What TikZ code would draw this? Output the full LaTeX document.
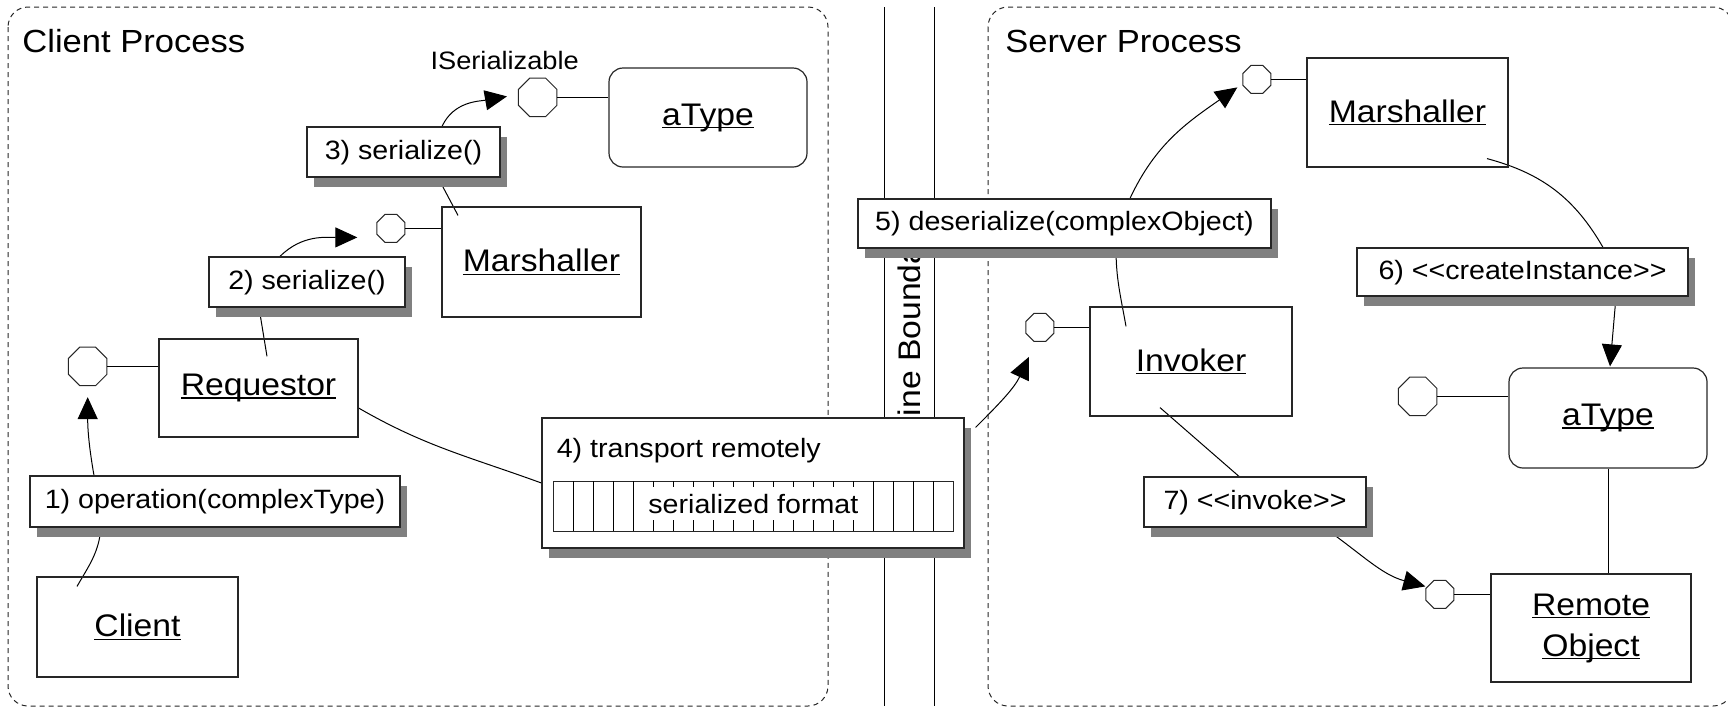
\documentclass[tikz,border=0pt]{standalone}
\usepackage{fontspec}
\setmainfont{Liberation Sans}[FakeStretch=1.08]
\usetikzlibrary{shapes.geometric,arrows.meta,positioning,calc,shadows}

\pgfdeclarelayer{background}
\pgfsetlayers{background,main}

\newcommand{\titlefont}{\fontsize{16}{19}\selectfont}
\newcommand{\namefont}{\fontsize{15.6}{20.5}\selectfont}
\newcommand{\msgfont}{\fontsize{13.25}{16}\selectfont}
\newcommand{\ifacefont}{\fontsize{12.6}{15}\selectfont}
% object names are underlined close to the baseline
\newcommand{\objname}[1]{\setbox0\hbox{#1}\rlap{\rule[-1.5pt]{\wd0}{0.6pt}}\box0}

\begin{document}
\begin{tikzpicture}[
    x=0.5pt, y=-0.5pt, % pixel grid, y grows downwards
    font=\msgfont,
    % Styles
    process/.style={
        draw=black!85,
        line width=0.5pt,
        dash pattern=on 2.5pt off 2pt,
        rounded corners=10pt
    },
    object/.style={
        rectangle,
        draw=black!85,
        line width=0.6pt,
        minimum width=100pt,
        minimum height=50pt,
        align=center,
        font=\namefont
    },
    typebox/.style={object, rounded corners=7pt},
    iface/.style={
        regular polygon,
        regular polygon sides=8,
        draw=black!85,
        line width=0.5pt,
        inner sep=0pt,
        minimum size=20.8pt
    },
    smallface/.style={iface, minimum size=15.2pt},
    msg/.style={
        rectangle,
        draw=black!85,
        fill=white,
        line width=0.6pt,
        minimum height=25pt,
        text height=0.72em,
        text depth=0pt,
        inner sep=0pt,
        drop shadow={shadow xshift=3.5pt, shadow yshift=-5pt, fill=black!50, opacity=1}
    },
    % Line Styles
    wire/.style={draw, line width=0.5pt},
    call/.style={wire, -{Triangle[length=11pt, width=10pt]}}
]
\useasboundingbox (0,0) rectangle (1728,713);

% --- Process frames and machine boundary ---
\draw[process] (8,7) rectangle (828,706);
\draw[process] (988,7) rectangle (1733,706);
\draw[wire] (884,7) -- (884,706);
\draw[wire] (934,7) -- (934,706);
\node[font=\namefont, rotate=90, anchor=base, inner sep=0pt] (boundary) at (920,358) {Machine Boundary};

\node[font=\titlefont, anchor=base west, inner sep=0pt] (clientTitle) at (22,52) {Client Process};
\node[font=\titlefont, anchor=base west, inner sep=0pt] (serverTitle) at (1005,52) {Server Process};

% --- Client side objects ---
\node[object, minimum width=100.5pt] (client) at (137.5,627) {\objname{Client}};
\node[object, minimum width=99.5pt, minimum height=49pt] (requestor) at (258.5,388) {\objname{Requestor}};
\node[object, minimum width=99.5pt, minimum height=55pt] (marshaller) at (541.5,262) {\objname{Marshaller}};
\node[typebox, minimum width=99pt, minimum height=49.5pt] (aType) at (708,117.5) {\objname{aType}};

\node[iface, left=25.5pt of requestor.north west, yshift=-14pt] (reqIf) {};
\node[smallface, left=18pt of marshaller.north west, yshift=-11pt] (marIf) {};
\node[iface, left=25.5pt of aType.north west, yshift=-15pt] (serIf) {};
\node[font=\ifacefont, inner sep=0pt, above=4pt of serIf, xshift=-16.5pt] (serName) {ISerializable};

% --- Server side objects ---
\node[object, minimum width=101pt, minimum height=54.5pt] (invoker) at (1191,361.5) {\objname{Invoker}};
\node[object, minimum width=100.5pt, minimum height=54.5pt] (srvMarshaller) at (1407.5,112.5) {\objname{Marshaller}};
\node[typebox, minimum width=99pt] (srvType) at (1608,418) {\objname{aType}};
\node[object, minimum height=54pt] (remote) at (1591,628) {\objname{Remote}\\\objname{Object}};

\node[smallface, left=17.5pt of invoker.north west, yshift=-10.5pt] (invIf) {};
\node[smallface, left=17.5pt of srvMarshaller.north west, yshift=-11pt] (srvMarIf) {};
\node[iface, left=35.5pt of srvType.north west, yshift=-14.5pt] (srvTypeIf) {};
\node[smallface, left=18pt of remote.north west, yshift=-10.5pt] (remIf) {};

% interface stems
\draw[wire] (reqIf.east) -- (reqIf.east -| requestor.west);
\draw[wire] (marIf.east) -- (marIf.east -| marshaller.west);
\draw[wire] (serIf.east) -- (serIf.east -| aType.west);
\draw[wire] (invIf.east) -- (invIf.east -| invoker.west);
\draw[wire] (srvMarIf.east) -- (srvMarIf.east -| srvMarshaller.west);
\draw[wire] (srvTypeIf.east) -- (srvTypeIf.east -| srvType.west);
\draw[wire] (remIf.east) -- (remIf.east -| remote.west);

% --- Messages ---
\node[msg, minimum width=185pt, minimum height=25.5pt] (opLbl) at (215,501.5) {1) operation(complexType)};
\node[msg, minimum width=98pt] (ser2Lbl) at (307,282) {2) serialize()};
\node[msg, minimum width=96.5pt] (ser3Lbl) at (403.5,152) {3) serialize()};
\node[msg, minimum width=211pt, minimum height=65pt] (transport) at (753,483) {};
\node[anchor=base west, inner sep=0pt] (transportText) at ($(transport.north west)+(15,40)$) {4) transport remotely};
\node[msg, minimum width=206.5pt, minimum height=24.5pt] (deserLbl) at (1064.5,223.5) {5) deserialize(complexObject)};
\node[msg, minimum width=165.5pt, minimum height=24pt] (createLbl) at (1522.5,272) {6) <{}<createInstance>{}>};
\node[msg, minimum width=111pt] (invokeLbl) at (1255,502) {7) <{}<invoke>{}>};

% byte strip inside the transport box
\draw[line width=0.5pt, draw=black!85] ($(transport.north west)+(12,64)$) coordinate (strip) rectangle ++(400,50);
\foreach \i in {1,...,19}
    \draw[wire] ($(strip)+(20*\i,0)$) -- ++(0,50);
\node[fill=white, inner sep=0pt, minimum width=114pt, minimum height=16.5pt] (serialFmt) at ($(strip)+(200,22.5)$) {serialized format};

% --- Relationships ---
\begin{pgfonlayer}{background}
% 1. operation
\draw[call] ($(opLbl.north)+(-121,0)$) to[out=100,in=-90] ($(reqIf.south)+(0,11)$);
\draw[wire] ($(opLbl.south)+(-114,0)$) to[out=-95,in=60] ($(client.north)+(-60.5,10)$);

% 2./3. serialize
\draw[call] ($(ser2Lbl.north)+(-27,0)$) to[out=45,in=180] ($(marIf.west)+(-19,9)$);
\draw[wire] ($(ser2Lbl.south)+(-48,0)$) -- ($(requestor.north)+(8.5,18)$);
\draw[call] ($(ser3Lbl.north)+(38.5,0)$) to[out=65,in=190] ($(serIf.west)+(-11,-1)$);
\draw[wire] ($(ser3Lbl.south)+(34.5,0)$) -- ($(marshaller.north)+(-83.5,9)$);

% 4. transport
\draw[wire] ($(requestor.east)+(0,20)$) to[out=-30,in=160] (transport.west);
\draw[call] ($(transport.north east)+(11,10)$) to[out=45,in=-115] ($(invIf.south)+(-11,15)$);

% 5. deserialize
\draw[call] ($(deserLbl.north)+(65.5,0)$) to[out=65,in=-145] ($(srvMarIf.west)+(-5,8)$);
\draw[wire] ($(deserLbl.south)+(51.5,0)$) to[out=-90,in=100] ($(invoker.north)+(-65,20)$);

% 6. createInstance
\draw[wire] ($(srvMarshaller.south)+(79.5,-9)$) to[out=-15,in=120] ($(createLbl.north)+(80.5,0)$);
\draw[call] ($(createLbl.south)+(93.5,0)$) -- ($(srvType.north)+(2,-1)$);

% 7. invoke
\draw[wire] ($(invoker.south)+(-31,-9)$) -- ($(invokeLbl.north)+(-16,0)$);
\draw[call] ($(invokeLbl.south)+(69,0)$) to[out=-35,in=165] ($(remIf.west)+(0,-8)$);

\draw[wire] (srvType.south) -- (srvType.south |- remote.north);
\end{pgfonlayer}

\end{tikzpicture}
\end{document}
